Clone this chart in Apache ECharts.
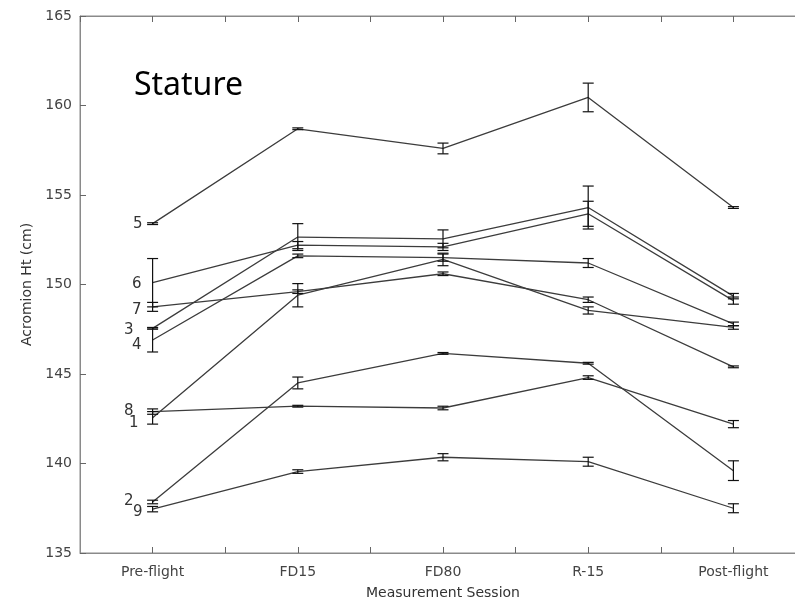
<!DOCTYPE html>
<html>
<head>
<meta charset="utf-8">
<script src="https://cdn.jsdelivr.net/npm/echarts@6/dist/echarts.min.js"></script>
<style>
  html, body { margin: 0; padding: 0; background: #fff; overflow: hidden; }
  #chart_stature { width: 810px; height: 605px; }
</style>
</head>
<body>
<div id="chart_stature"></div>
<script>
// 测量阶段
var sessions = ['Pre-flight', 'FD15', 'FD80', 'R-15', 'Post-flight'];
var subjects = ['1', '2', '3', '4', '5', '6', '7', '8', '9'];
var yTicks = [135, 140, 145, 150, 155, 160, 165];

// 每个受试者的均值（cm）
var mean1 = [142.55, 149.4, 151.4, 148.55, 147.6];
var mean2 = [137.85, 144.5, 146.15, 145.6, 139.6];
var mean3 = [147.55, 152.65, 152.55, 154.3, 149.35];
var mean4 = [146.9, 151.6, 151.5, 151.2, 147.8];
var mean5 = [153.4, 158.7, 157.6, 160.45, 154.3];
var mean6 = [150.1, 152.2, 152.1, 153.95, 149.1];
var mean7 = [148.75, 149.6, 150.6, 149.15, 145.4];
var mean8 = [142.9, 143.2, 143.1, 144.8, 142.2];
var mean9 = [137.45, 139.55, 140.35, 140.1, 137.5];

// 误差棒半宽
var err1 = [0.35, 0.65, 0.35, 0.2, 0.1];
var err2 = [0.1, 0.33, 0.05, 0.05, 0.55];
var err3 = [0.05, 0.75, 0.5, 1.2, 0.15];
var err4 = [0.67, 0.1, 0.2, 0.25, 0.1];
var err5 = [0.05, 0.05, 0.3, 0.8, 0.05];
var err6 = [1.35, 0.2, 0.2, 0.7, 0.2];
var err7 = [0.25, 0.1, 0.1, 0.15, 0.05];
var err8 = [0.15, 0.05, 0.1, 0.1, 0.2];
var err9 = [0.15, 0.1, 0.2, 0.25, 0.25];

var means = [mean1, mean2, mean3, mean4, mean5, mean6, mean7, mean8, mean9];
var errs = [err1, err2, err3, err4, err5, err6, err7, err8, err9];

// 编号标签相对第一个点的位置 [distance, dy]
var labelPos = [[14, 5], [19, -1], [19, 2], [11, 5], [10, 0], [11, 1], [11, 3], [19, 0], [10, 3]];

var FONT = 'DejaVu Sans';

function renderErr(params, api) {
    var x = api.value(0);
    var lo = api.coord([x, api.value(1)]);
    var hi = api.coord([x, api.value(2)]);
    var w = 5.5;
    var st = { stroke: '#111', lineWidth: 1.2 };
    return {
        type: 'group',
        children: [
            { type: 'line', shape: { x1: lo[0], y1: lo[1], x2: hi[0], y2: hi[1] }, style: st },
            { type: 'line', shape: { x1: lo[0] - w, y1: lo[1], x2: lo[0] + w, y2: lo[1] }, style: st },
            { type: 'line', shape: { x1: hi[0] - w, y1: hi[1], x2: hi[0] + w, y2: hi[1] }, style: st }
        ]
    };
}

function intStatureChart() {
    var myChart = echarts.init(document.getElementById('chart_stature'));
    var series = [];

    subjects.forEach(function (name, i) {
        var lineData = means[i].map(function (v, j) {
            var item = { value: [j + 1, v] };
            if (j === 0) {
                item.label = {
                    show: true,
                    position: 'left',
                    distance: labelPos[i][0],
                    offset: [0, labelPos[i][1]],
                    formatter: name,
                    fontFamily: FONT,
                    fontSize: 15,
                    color: '#333'
                };
            }
            return item;
        });
        series.push({
            name: name,
            type: 'line',
            data: lineData,
            symbol: 'circle',
            symbolSize: 0.1,
            showSymbol: true,
            lineStyle: { color: '#3c3c3c', width: 1.3 },
            itemStyle: { color: 'transparent' },
            animation: false,
            silent: true,
            z: 2
        });
        series.push({
            type: 'custom',
            renderItem: renderErr,
            data: means[i].map(function (v, j) {
                return [j + 1, v - errs[i][j], v + errs[i][j]];
            }),
            animation: false,
            silent: true,
            z: 3
        });
    });

    var option = {
        backgroundColor: '#fff',
        animation: false,
        grid: { left: 80, top: 16, right: 4, height: 538, show: true, borderColor: '#8a8a8a', borderWidth: 1 },
        graphic: [{
            type: 'text', left: 134, top: 70,
            style: { text: 'Stature', font: '32px "Noto Sans"', fill: '#000' }
        }],
        xAxis: [{
            type: 'value',
            min: 0.5, max: 5.5, interval: 0.5,
            name: 'Measurement Session',
            nameLocation: 'middle',
            nameGap: 33,
            nameTextStyle: { fontFamily: FONT, fontSize: 14, color: '#333' },
            axisLine: { show: true, lineStyle: { color: '#8a8a8a' } },
            axisTick: { show: true, inside: true, length: 6, lineStyle: { color: '#666' } },
            axisLabel: {
                margin: 12, fontFamily: FONT, fontSize: 14, color: '#444',
                showMinLabel: false, showMaxLabel: false,
                formatter: function (v) {
                    return Number.isInteger(v) ? sessions[v - 1] : '';
                }
            },
            splitLine: { show: false }
        }, {
            type: 'value', position: 'top',
            min: 0.5, max: 5.5, interval: 0.5,
            axisLine: { show: true, lineStyle: { color: '#8a8a8a' } },
            axisTick: { show: true, inside: true, length: 6, lineStyle: { color: '#666' } },
            axisLabel: { show: false },
            splitLine: { show: false }
        }],
        yAxis: {
            type: 'value',
            min: yTicks[0], max: yTicks[yTicks.length - 1], interval: 5,
            name: 'Acromion Ht (cm)',
            nameLocation: 'middle',
            nameGap: 38,
            nameTextStyle: { fontFamily: FONT, fontSize: 14, color: '#333' },
            axisLine: { show: true, lineStyle: { color: '#8a8a8a' } },
            axisTick: { show: true, inside: true, length: 6, lineStyle: { color: '#666' } },
            axisLabel: { margin: 8, fontFamily: FONT, fontSize: 14, color: '#444' },
            splitLine: { show: false }
        },
        series: series
    };

    myChart.setOption(option);
}

intStatureChart();
</script>
</body>
</html>
